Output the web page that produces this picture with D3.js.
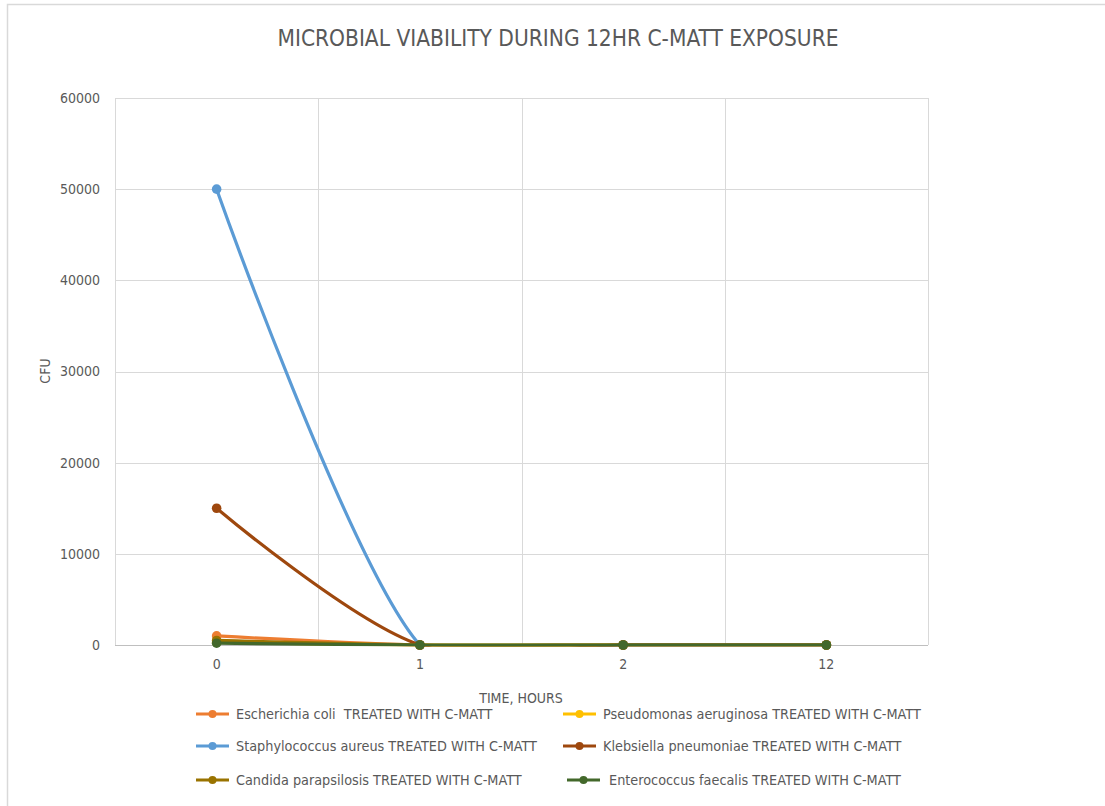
<!DOCTYPE html>
<html><head><meta charset="utf-8">
<script src="https://cdn.jsdelivr.net/npm/d3@7"></script>
<style>
body{margin:0;background:#fff;}
text{font-family:"Liberation Sans Narrow","DejaVu Sans Condensed","Roboto Condensed",Arial,sans-serif;fill:#595959;white-space:pre;}
</style></head><body>
<svg id="c" width="1105" height="806"></svg>
<script>
const categories = ["0","1","2","12"];
const seriesNames = [
  "Escherichia coli  TREATED WITH C-MATT",
  "Pseudomonas aeruginosa TREATED WITH C-MATT",
  "Staphylococcus aureus TREATED WITH C-MATT",
  "Klebsiella pneumoniae TREATED WITH C-MATT",
  "Candida parapsilosis TREATED WITH C-MATT",
  "Enterococcus faecalis TREATED WITH C-MATT"
];
const ecoli = [1000, 0, 0, 0];
const pseudomonas = [300, 0, 0, 0];
const staph = [50000, 0, 0, 0];
const klebsiella = [15000, 0, 0, 0];
const candida = [500, 0, 0, 0];
const enterococcus = [200, 0, 0, 0];
const colors = ["#ED7D31","#FFC000","#5B9BD5","#9E480E","#997300","#43682B"];
const yTicks = [0,10000,20000,30000,40000,50000,60000];
const seriesValues = [ecoli, pseudomonas, staph, klebsiella, candida, enterococcus];

const svg = d3.select("#c");
const L=115, R=928, T=98, B=645;

// chart border
svg.append("rect").attr("x",7.5).attr("y",4.5).attr("width",1200).attr("height",1000)
  .attr("fill","none").attr("stroke","#d9d9d9").attr("stroke-width",1.5);

const x = d3.scaleBand().domain(categories).range([L,R]).padding(0);
const y = d3.scaleLinear().domain([0,60000]).range([B,T]);

// horizontal gridlines
svg.append("g").selectAll("line").data(yTicks.filter(d=>d>0)).join("line")
  .attr("x1",L).attr("x2",R).attr("y1",d=>Math.round(y(d))+0.5).attr("y2",d=>Math.round(y(d))+0.5)
  .attr("stroke","#d9d9d9").attr("stroke-width",1);
// vertical gridlines at band boundaries
const bounds = categories.map(c=>x(c)).concat([R]);
svg.append("g").selectAll("line").data(bounds).join("line")
  .attr("x1",d=>Math.round(d)+0.5).attr("x2",d=>Math.round(d)+0.5).attr("y1",T).attr("y2",B)
  .attr("stroke","#d9d9d9").attr("stroke-width",1);
// x axis line
svg.append("line").attr("x1",L).attr("x2",R).attr("y1",B+0.5).attr("y2",B+0.5)
  .attr("stroke","#bfbfbf").attr("stroke-width",1);

// y tick labels
const yAxis = d3.axisLeft(y).tickValues(yTicks).tickSize(0).tickPadding(15).tickFormat(d3.format("d"));
const ga = svg.append("g").attr("transform",`translate(${L},0)`).call(yAxis);
ga.select(".domain").remove();
ga.selectAll("text").attr("font-size",14).attr("fill","#595959")
  .style("font-family",'"Liberation Sans Narrow","DejaVu Sans Condensed",Arial,sans-serif');

// x tick labels
const xAxis = d3.axisBottom(x).tickSize(0).tickPadding(14);
const gx = svg.append("g").attr("transform",`translate(0,${B})`).call(xAxis);
gx.select(".domain").remove();
gx.selectAll("text").attr("font-size",14).attr("fill","#595959")
  .style("font-family",'"Liberation Sans Narrow","DejaVu Sans Condensed",Arial,sans-serif');

// clip
svg.append("clipPath").attr("id","clip").append("rect")
  .attr("x",L).attr("y",T-5).attr("width",R-L).attr("height",B-T+6.5);

const line = d3.line()
  .x((d,i)=>x(categories[i])+x.bandwidth()/2)
  .y(d=>y(d))
  .curve(d3.curveCardinal.tension(0));

seriesValues.forEach((vals,si)=>{
  svg.append("path").attr("d",line(vals)).attr("fill","none")
    .attr("stroke",colors[si]).attr("stroke-width",3.2).attr("stroke-linecap","round")
    .attr("clip-path","url(#clip)");
  svg.append("g").selectAll("circle").data(vals).join("circle")
    .attr("cx",(d,i)=>x(categories[i])+x.bandwidth()/2).attr("cy",d=>y(d)).attr("r",4.8)
    .attr("fill",colors[si]);
});

// title
svg.append("text").attr("x",558).attr("y",46).attr("text-anchor","middle")
  .attr("font-size",22.5).attr("fill","#595959").text("MICROBIAL VIABILITY DURING 12HR C-MATT EXPOSURE");
// axis titles
svg.append("text").attr("x",521).attr("y",703).attr("text-anchor","middle")
  .attr("font-size",14).text("TIME, HOURS");
svg.append("text").attr("transform","translate(50,371) rotate(-90)").attr("text-anchor","middle")
  .attr("font-size",14).text("CFU");

// legend
const legPos = [[196,714],[563,714],[196,746],[563,746],[196,780],[567,780]];
seriesNames.forEach((n,i)=>{
  const [lx,ly] = legPos[i];
  const g = svg.append("g").attr("transform",`translate(${lx},${ly})`);
  g.append("line").attr("x1",0).attr("x2",33).attr("y1",0).attr("y2",0)
    .attr("stroke",colors[i]).attr("stroke-width",3);
  g.append("circle").attr("cx",16.5).attr("cy",0).attr("r",4).attr("fill",colors[i]);
  g.append("text").attr("x",i===5?42:40).attr("y",5).attr("font-size",14.3).text(n);
});
</script></body></html>
